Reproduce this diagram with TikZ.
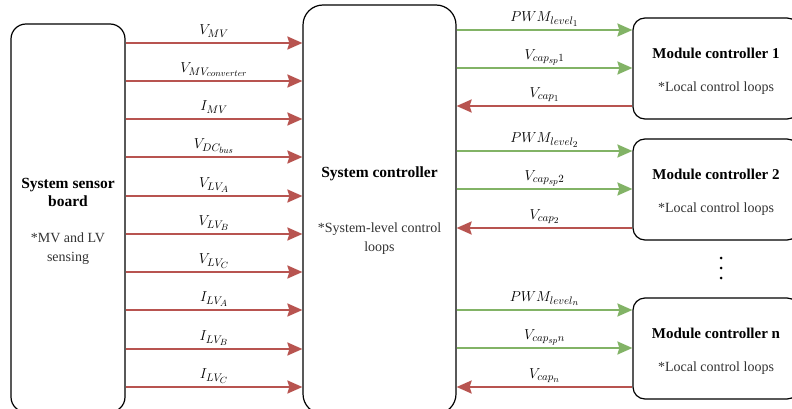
\documentclass[tikz,border=0pt]{standalone}
\usepackage{fontspec}
\setmainfont{Liberation Serif}
\usetikzlibrary{arrows.meta}
\DeclareMathSizes{15}{15}{11}{9}
\definecolor{redline}{HTML}{B85450}
\definecolor{greenline}{HTML}{82B366}
\begin{document}
\begin{tikzpicture}[x=1pt,y=-1pt,
  box/.style={draw=black, line width=1.2pt, fill=white, inner sep=0pt},
  title/.style={font=\bfseries\fontsize{15.5}{18}\selectfont, align=center, inner sep=0pt},
  modtitle/.style={font=\bfseries\fontsize{15}{18}\selectfont, align=center, inner sep=0pt},
  note/.style={font=\fontsize{14}{19}\selectfont, text=black!80, align=center, inner sep=0pt},
  sigline/.style={line width=2.2pt, -{Stealth[length=15pt,width=13pt,inset=2pt]}},
  greensig/.style={sigline, color=greenline},
  redsig/.style={sigline, color=redline},
  lab/.style={font=\fontsize{15}{17}\selectfont, text=black, inner sep=0pt, anchor=base, yshift=8.5pt},
  dotmark/.style={circle, fill=black, inner sep=0pt, minimum size=3pt}
]
\useasboundingbox (0,0) rectangle (792,409);
\clip (0,0) rectangle (792,409);

% boxes
\node[box, rounded corners=15pt, minimum width=114pt, minimum height=388pt] (sensor) at (68,218) {};
\node[box, rounded corners=20pt, minimum width=153pt, minimum height=409pt] (ctrl) at (379.5,209.5) {};
\node[box, rounded corners=12pt, minimum width=166pt, minimum height=101pt] (mod1) at (716,68.5) {};
\node[box, rounded corners=12pt, minimum width=166pt, minimum height=101pt] (mod2) at (716,189.5) {};
\node[box, rounded corners=12pt, minimum width=166pt, minimum height=101pt] (modn) at (716,348.5) {};

% texts
\node[title] (sensortitle) at (68,192) {System sensor\\board};
\node[note] (sensornote) at (68,249) {*MV and LV\\sensing};
\node[title] (ctrltitle) at (379.5,174) {System controller};
\node[note] (ctrlnote) at (379.5,238.5) {*System-level control\\loops};
\node[modtitle] (mod1title) at (716,53) {Module controller 1};
\node[note] (mod1note) at (716,88) {*Local control loops};
\node[modtitle] (mod2title) at (716,174) {Module controller 2};
\node[note] (mod2note) at (716,209) {*Local control loops};
\node[modtitle] (modntitle) at (716,333) {Module controller n};
\node[note] (modnnote) at (716,368) {*Local control loops};
\node[dotmark] (dot1) at (721,258) {};
\node[dotmark] (dot2) at (721,268) {};
\node[dotmark] (dot3) at (721,278) {};

% sensor -> controller
\foreach \i/\y/\t in {1/43/{V_{MV}}, 2/81/{V_{MV_{converter}}}, 3/119/{I_{MV}}, 4/157/{V_{DC_{bus}}},
  5/196/{V_{LV_A}}, 6/234/{V_{LV_B}}, 7/272/{V_{LV_C}}, 8/310/{I_{LV_A}}, 9/349/{I_{LV_B}}, 10/387/{I_{LV_C}}} {
  \coordinate (ls\i) at (0,\y);
  \draw[redsig] (sensor.east |- ls\i) -- node[lab] {$\t$} (ctrl.west |- ls\i);
}

% controller <-> modules
\foreach \m/\ya/\yb/\yc/\k in {mod1/30/68/106/1, mod2/151/189/228/2, modn/310/348/387/n} {
  \coordinate (ra\k) at (0,\ya);
  \coordinate (rb\k) at (0,\yb);
  \coordinate (rc\k) at (0,\yc);
  \draw[greensig] (ctrl.east |- ra\k) -- node[lab] {$PWM_{level_{\k}}$} (\m.west |- ra\k);
  \draw[greensig] (ctrl.east |- rb\k) -- node[lab] {$V_{cap_{sp}\k}$} (\m.west |- rb\k);
  \draw[redsig] (\m.west |- rc\k) -- node[lab] {$V_{cap_{\k}}$} (ctrl.east |- rc\k);
}
\end{tikzpicture}
\end{document}
